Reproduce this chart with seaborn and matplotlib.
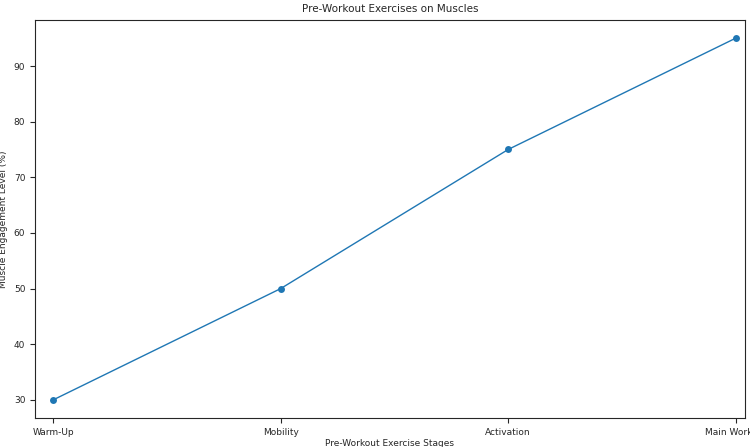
import matplotlib
matplotlib.use("Agg")
import matplotlib.pyplot as plt
import seaborn as sns
import pandas as pd

stages = ["Warm-Up", "Mobility", "Activation", "Main Workout"]
engagement = [30, 50, 75, 95]

df = pd.DataFrame({"stage": stages, "engagement": engagement})

sns.set_style("ticks")
plt.rcParams['font.family'] = ['DejaVu Sans']
fig, ax = plt.subplots(figsize=(7.5, 4.47), dpi=100)
sns.lineplot(data=df, x="stage", y="engagement", marker="o", color="#1f77b4",
             linewidth=1, markersize=5, markeredgewidth=0, ax=ax, sort=False)
ax.set_title("Pre-Workout Exercises on Muscles", fontsize=7.5)
ax.set_xlabel("Pre-Workout Exercise Stages", fontsize=6.5, labelpad=2)
ax.set_ylabel("Muscle Engagement Level (%)", fontsize=6.5)
ax.tick_params(labelsize=6.5)
for s in ax.spines.values():
    s.set_visible(True)
fig.subplots_adjust(left=0.0467, right=0.993, top=0.955, bottom=0.065)
ax.set_xlim(-0.08, 3.04)
fig.savefig("out.png", dpi=100)
